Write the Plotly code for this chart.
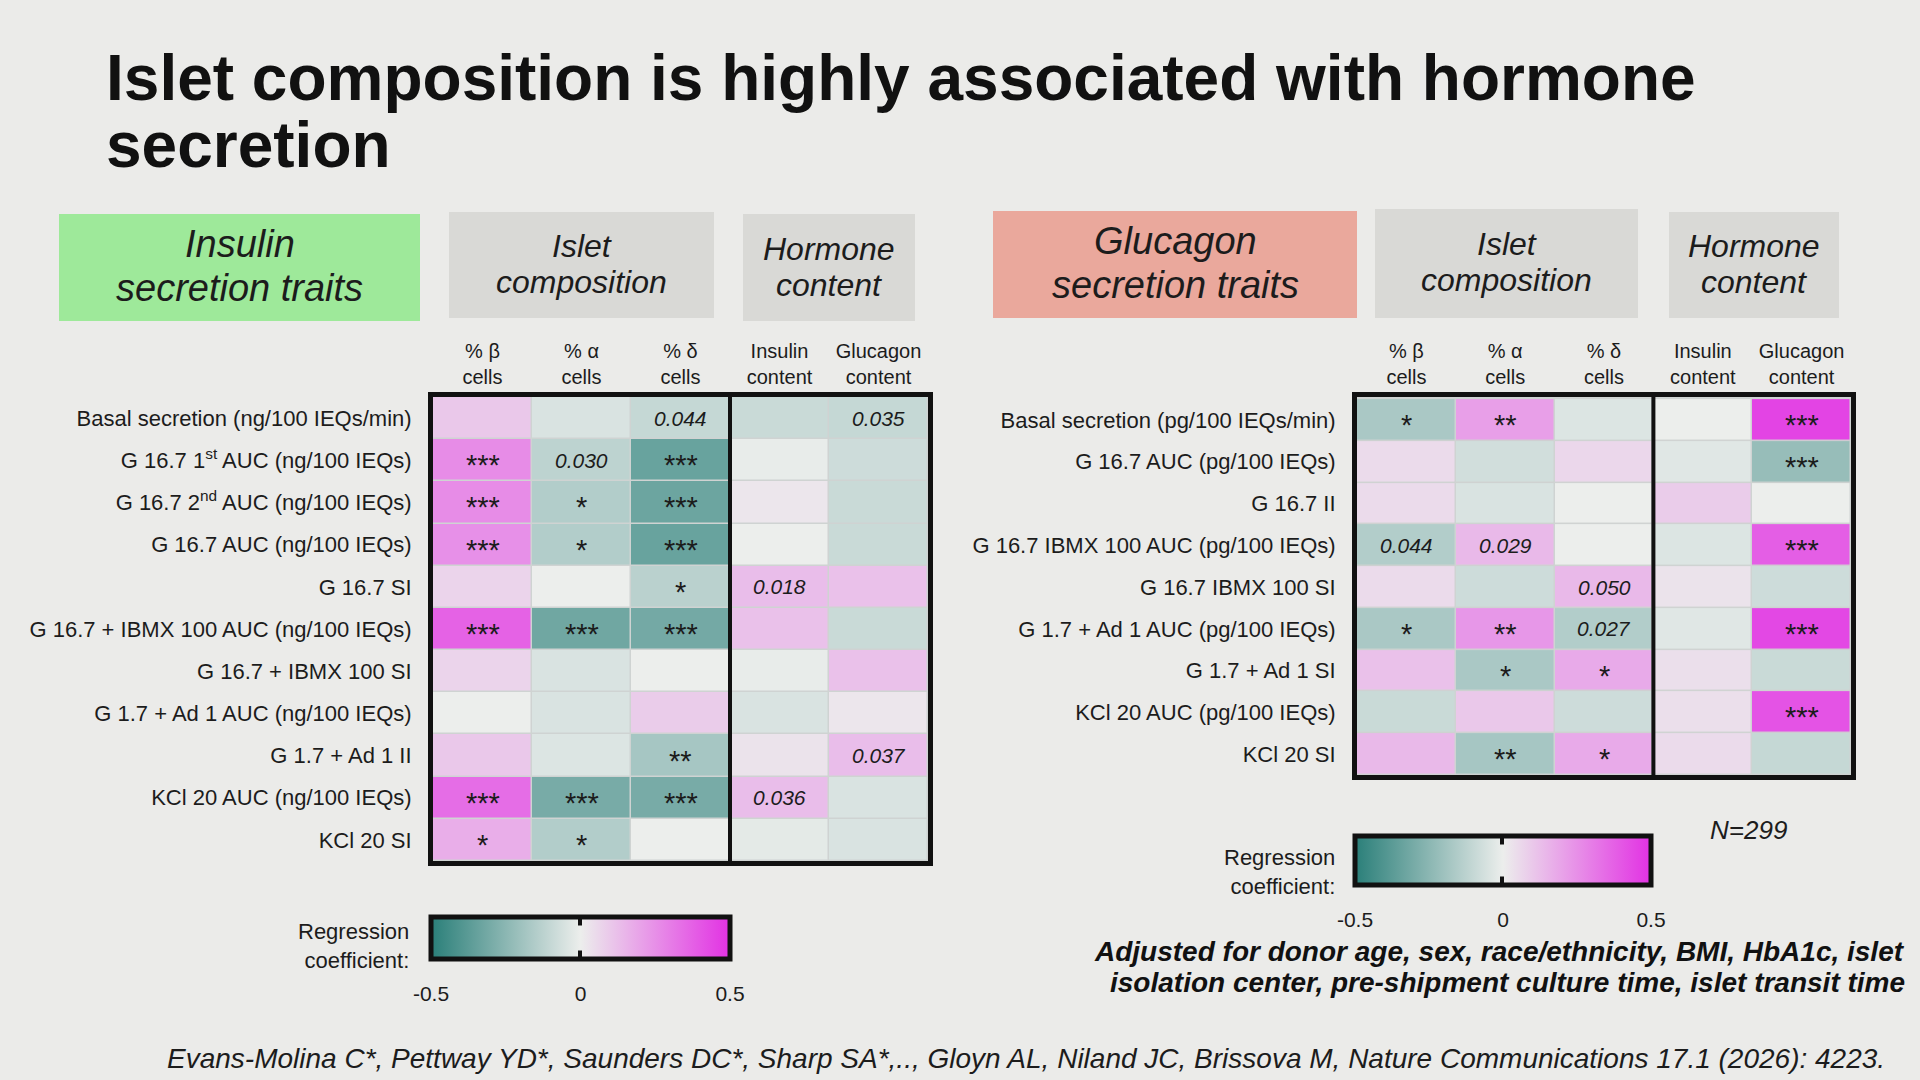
import plotly.graph_objects as go

W, H = 1920, 1080
BG = "#ebebe9"
INK = "#1c1c1c"
SANS = "Liberation Sans, Arial, sans-serif"
NARROW = "Liberation Sans Narrow, Arial Narrow, Liberation Sans, Arial, sans-serif"

# column headers (same for both panels)
cols = ["% β<br>cells", "% α<br>cells", "% δ<br>cells", "Insulin<br>content", "Glucagon<br>content"]

# insulin secretion traits
ins_rows = [
    "Basal secretion (ng/100 IEQs/min)",
    "G 16.7 1<sup>st</sup> AUC (ng/100 IEQs)",
    "G 16.7 2<sup>nd</sup> AUC (ng/100 IEQs)",
    "G 16.7 AUC (ng/100 IEQs)",
    "G 16.7 SI",
    "G 16.7 + IBMX 100 AUC (ng/100 IEQs)",
    "G 16.7 + IBMX 100 SI",
    "G 1.7 + Ad 1 AUC (ng/100 IEQs)",
    "G 1.7 + Ad 1 II",
    "KCl 20 AUC (ng/100 IEQs)",
    "KCl 20 SI",
]
ins_coef = [
    [0.10, -0.05, -0.10, -0.09, -0.10],
    [0.26, -0.12, -0.34, -0.01, -0.08],
    [0.26, -0.15, -0.33, 0.02, -0.09],
    [0.25, -0.15, -0.34, 0.00, -0.09],
    [0.07, 0.00, -0.13, 0.13, 0.12],
    [0.37, -0.32, -0.31, 0.12, -0.09],
    [0.07, -0.05, 0.00, -0.01, 0.12],
    [0.00, -0.05, 0.09, -0.05, 0.02],
    [0.10, -0.04, -0.18, 0.03, 0.13],
    [0.34, -0.30, -0.30, 0.13, -0.05],
    [0.17, -0.15, 0.00, -0.02, -0.05],
]
ins_sig = [
    ["", "", "0.044", "", "0.035"],
    ["***", "0.030", "***", "", ""],
    ["***", "*", "***", "", ""],
    ["***", "*", "***", "", ""],
    ["", "", "*", "0.018", ""],
    ["***", "***", "***", "", ""],
    ["", "", "", "", ""],
    ["", "", "", "", ""],
    ["", "", "**", "", "0.037"],
    ["***", "***", "***", "0.036", ""],
    ["*", "*", "", "", ""],
]

# glucagon secretion traits
glu_rows = [
    "Basal secretion (pg/100 IEQs/min)",
    "G 16.7 AUC (pg/100 IEQs)",
    "G 16.7 II",
    "G 16.7 IBMX 100 AUC (pg/100 IEQs)",
    "G 16.7 IBMX 100 SI",
    "G 1.7 + Ad 1 AUC (pg/100 IEQs)",
    "G 1.7 + Ad 1 SI",
    "KCl 20 AUC (pg/100 IEQs)",
    "KCl 20 SI",
]
glu_coef = [
    [-0.17, 0.21, -0.04, 0.00, 0.45],
    [0.05, -0.07, 0.06, -0.03, -0.22],
    [0.05, -0.05, 0.00, 0.09, 0.00],
    [-0.15, 0.14, 0.00, -0.04, 0.38],
    [0.05, -0.08, 0.14, 0.03, -0.08],
    [-0.17, 0.23, -0.15, -0.03, 0.44],
    [0.12, -0.17, 0.18, 0.04, -0.09],
    [-0.09, 0.10, -0.08, 0.04, 0.41],
    [0.14, -0.18, 0.18, 0.05, -0.10],
]
glu_sig = [
    ["*", "**", "", "", "***"],
    ["", "", "", "", "***"],
    ["", "", "", "", ""],
    ["0.044", "0.029", "", "", "***"],
    ["", "", "0.050", "", ""],
    ["*", "**", "0.027", "", "***"],
    ["", "*", "*", "", ""],
    ["", "", "", "", "***"],
    ["", "**", "*", "", ""],
]

cbar_ticks = [-0.5, 0, 0.5]
cscale = [[0.0, "#2a7f79"], [0.5, "#eceeec"], [1.0, "#e231e3"]]


def px(x):
    return x / W


def py(y):
    return 1 - y / H


def label(x, y, text, size, xanchor="center", family=SANS, color=INK):
    # free text placed in figure pixels
    return dict(x=px(x), y=py(y), xref="paper", yref="paper", xanchor=xanchor, yanchor="middle",
                align=xanchor if xanchor != "center" else "center", text=text, showarrow=False,
                font=dict(size=size, color=color, family=family))


fig = go.Figure()
fig.add_trace(go.Heatmap(z=ins_coef, x=cols, y=ins_rows, coloraxis="coloraxis",
                         xgap=1.5, ygap=1.5, xaxis="x", yaxis="y", hoverinfo="skip"))
fig.add_trace(go.Heatmap(z=glu_coef, x=cols, y=glu_rows, coloraxis="coloraxis2",
                         xgap=1.5, ygap=1.5, xaxis="x2", yaxis="y2", hoverinfo="skip"))

annotations = []
for rows, sig, xr, yr in [(ins_rows, ins_sig, "x", "y"), (glu_rows, glu_sig, "x2", "y2")]:
    for i, r in enumerate(rows):
        for j, c in enumerate(cols):
            s = sig[i][j]
            if not s:
                continue
            if s.startswith("*"):
                annotations.append(dict(x=c, y=r, xref=xr, yref=yr, text=s, showarrow=False,
                                        yshift=-5, font=dict(size=29, color=INK, family=SANS)))
            else:
                annotations.append(dict(x=c, y=r, xref=xr, yref=yr, text="<i>" + s + "</i>",
                                        showarrow=False, font=dict(size=21, color=INK, family=SANS)))

# header boxes
shapes = []
boxes = [
    (59, 420, 214, 321, "#9ee99a", ["Insulin", "secretion traits"], 38, (-23, 20)),
    (449, 714, 212, 318, "#d9d9d6", ["Islet", "composition"], 32, (-19, 17)),
    (743, 915, 214, 321, "#d9d9d6", ["Hormone", "content"], 32, (-19, 17)),
    (993, 1357, 211, 318, "#eaa89c", ["Glucagon", "secretion traits"], 38, (-23, 20)),
    (1375, 1638, 209, 318, "#d9d9d6", ["Islet", "composition"], 32, (-19, 17)),
    (1669, 1839, 212, 318, "#d9d9d6", ["Hormone", "content"], 32, (-19, 17)),
]
for x0, x1, y0, y1, col, lines, fs, offs in boxes:
    shapes.append(dict(type="rect", xref="paper", yref="paper", x0=px(x0), x1=px(x1),
                       y0=py(y1), y1=py(y0), fillcolor=col, line=dict(width=0), layer="below"))
    for ln, off in zip(lines, offs):
        annotations.append(label((x0 + x1) / 2, (y0 + y1) / 2 + off, "<i>" + ln + "</i>", fs,
                                 family=NARROW))

# divider between composition and hormone content
for xr, yr in [("x", "y"), ("x2", "y2")]:
    shapes.append(dict(type="line", xref=xr, yref=yr + " domain", x0=2.5, x1=2.5, y0=0, y1=1,
                       line=dict(color="#111", width=4)))

# colorbar labels and zero marks
for lx, ly, cx, top, bot in [(411, 946, 580, 915, 961), (1337, 872, 1502, 834, 887)]:
    annotations.append(label(lx, ly, "Regression<br>coefficient:", 22, xanchor="right"))
    for ya, yb in [(top, top + 12), (bot, bot - 12)]:
        annotations.append(dict(x=px(cx), y=py(ya), xref="paper", yref="paper", text="",
                                showarrow=True, arrowhead=0, arrowwidth=4, arrowcolor="#111",
                                ax=0, ay=yb - ya, standoff=0, startstandoff=0))

# title, notes, citation
annotations += [
    label(104, 78, "<b>Islet composition is highly associated with hormone</b>", 64,
          xanchor="left", color="#111"),
    label(104, 145, "<b>secretion</b>", 64, xanchor="left", color="#111"),
    label(1748, 830, "<i>N=299</i>", 26),
    label(1907, 951, "<b><i>Adjusted for donor age, sex, race/ethnicity, BMI, HbA1c, islet</i></b>",
          28, xanchor="right", color="#111"),
    label(1907, 982, "<b><i>isolation center, pre-shipment culture time, islet transit time</i></b>",
          28, xanchor="right", color="#111"),
    label(1026, 1058,
          "<i>Evans-Molina C*, Pettway YD*, Saunders DC*, Sharp SA*,.., Gloyn AL, Niland JC, "
          "Brissova M, Nature Communications 17.1 (2026): 4223.</i>", 28),
]


def xax(dom):
    return dict(domain=dom, side="top", showgrid=False, zeroline=False, ticks="",
                showline=True, mirror=True, linewidth=5, linecolor="#111",
                tickfont=dict(size=20, color=INK, family=NARROW), ticklabelstandoff=0,
                automargin=False, fixedrange=True)


def yax(dom):
    return dict(domain=dom, autorange="reversed", showgrid=False, zeroline=False, ticks="",
                showline=True, mirror=True, linewidth=5, linecolor="#111",
                tickfont=dict(size=22, color=INK, family=SANS), ticklabelstandoff=12,
                automargin=False, fixedrange=True)


def cbar(x0, ytop, length, thick):
    return dict(orientation="h", x=px(x0), xanchor="left", y=py(ytop), yanchor="top",
                lenmode="pixels", len=length, thickness=thick, outlinewidth=5, outlinecolor="#111",
                tickvals=cbar_ticks, ticktext=["-0.5", "0", "0.5"], ticks="outside", ticklen=15,
                tickcolor=BG, tickfont=dict(size=21, color=INK, family=SANS), xpad=0, ypad=0)


fig.update_layout(
    width=W, height=H, margin=dict(l=0, r=0, t=0, b=0),
    paper_bgcolor=BG, plot_bgcolor="#cfd3d2",
    xaxis=xax([px(433), px(928)]), yaxis=yax([py(861), py(397)]),
    xaxis2=xax([px(1357), px(1851)]), yaxis2=yax([py(775), py(397)]),
    coloraxis=dict(colorscale=cscale, cmin=-0.5, cmax=0.5, colorbar=cbar(431, 917, 299, 42)),
    coloraxis2=dict(colorscale=cscale, cmin=-0.5, cmax=0.5, colorbar=cbar(1355, 836, 296, 49)),
    shapes=shapes, annotations=annotations, showlegend=False,
)
fig.layout.yaxis.anchor = "x"
fig.layout.xaxis.anchor = "y"
fig.layout.yaxis2.anchor = "x2"
fig.layout.xaxis2.anchor = "y2"

fig.write_html("out.html", config={"displayModeBar": False},
               post_script="document.body.style.margin='0';")
